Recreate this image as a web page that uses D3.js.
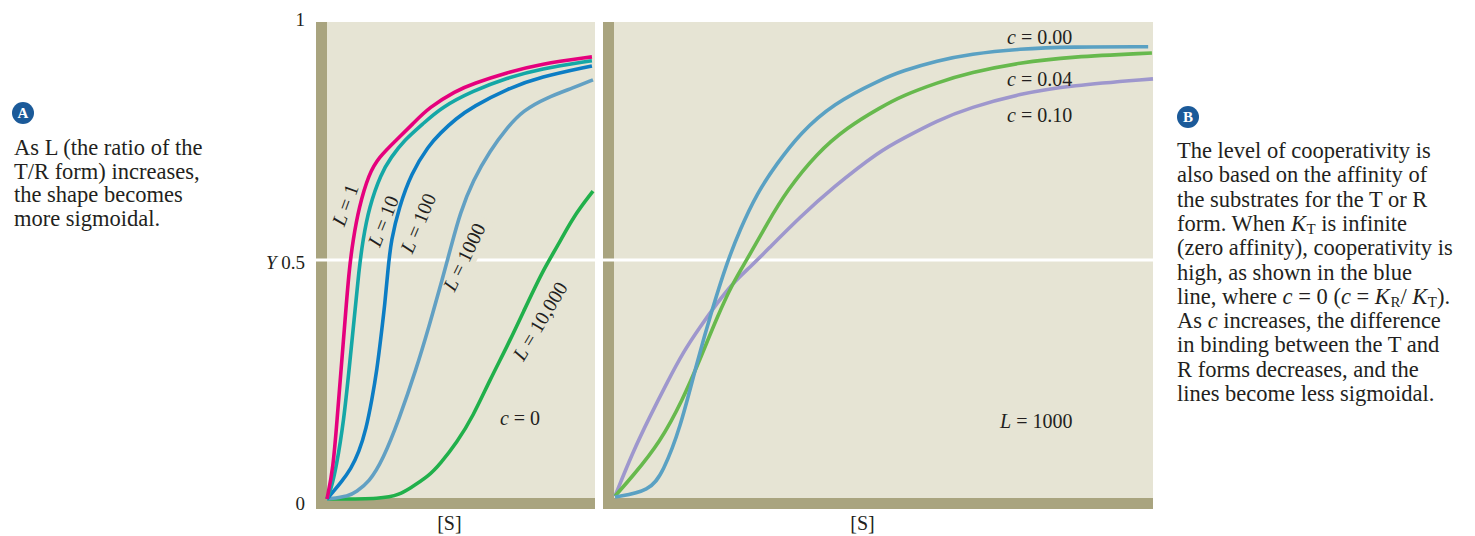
<!DOCTYPE html>
<html><head><meta charset="utf-8">
<script src="https://cdn.jsdelivr.net/npm/d3@7"></script>
<style>
html,body{margin:0;padding:0;background:#fff;}
svg{display:block;font-family:"Liberation Serif","Times New Roman",serif;}
</style></head><body>
<svg id="chart" width="1475" height="536"></svg>
<script>
// ---------- DATA ([S] in arbitrary units 0-100, Y fraction) ----------
const yTicks = [0, 0.5, 1];
const yTickLabels = ["0", "0.5", "1"];
const xAxisLabel = "[S]";

// Panel A: effect of L (c = 0)
const leftNames = ["L = 1", "L = 10", "L = 100", "L = 1000", "L = 10,000"];
const curveL1 = [[0,0],[2.3,0.063],[3.8,0.167],[5.3,0.271],[6.8,0.375],[8.3,0.479],[9.8,0.542],[12.0,0.610],[15.8,0.681],[19.5,0.715],[25.9,0.750],[32.3,0.785],[38.3,0.819],[48.5,0.854],[54.9,0.869],[67.7,0.892],[80.1,0.910],[99.6,0.925]];
const curveL10 = [[0,0],[1.5,0.021],[3.4,0.063],[6.4,0.167],[8.3,0.271],[10.2,0.375],[12.0,0.479],[13.5,0.542],[15.8,0.610],[20.3,0.681],[24.1,0.715],[28.9,0.750],[36.1,0.785],[42.9,0.819],[54.9,0.854],[67.7,0.881],[80.1,0.900],[99.6,0.917]];
const curveL100 = [[0,0],[2.3,0.015],[5.3,0.035],[9.0,0.063],[12.0,0.098],[14.7,0.146],[16.9,0.208],[18.8,0.271],[20.3,0.340],[21.8,0.410],[22.9,0.479],[24.1,0.542],[27.1,0.610],[31.6,0.681],[38.3,0.740],[42.5,0.765],[48.5,0.796],[54.9,0.821],[67.7,0.858],[80.1,0.883],[99.6,0.906]];
const curveL1000 = [[0,0],[8.3,0.006],[10.9,0.015],[15.8,0.035],[21.1,0.083],[27.1,0.167],[33.5,0.271],[38.3,0.360],[43.6,0.465],[46.6,0.527],[50.0,0.598],[54.9,0.667],[61.3,0.729],[67.7,0.777],[73.7,0.813],[82.7,0.840],[92.5,0.860],[100,0.877]];
const curveL10000 = [[0,0],[21.1,0],[27.4,0.010],[30.8,0.021],[38.3,0.048],[42.5,0.073],[48.9,0.119],[54.9,0.173],[61.3,0.250],[67.7,0.319],[73.7,0.390],[81.2,0.479],[86.5,0.527],[92.5,0.590],[100,0.644]];

// Panel B: effect of c (L = 1000)
const rightNames = ["c = 0.00", "c = 0.04", "c = 0.10"];
const curveC000 = [[0,0.004],[6.5,0.017],[8.9,0.056],[12.1,0.146],[15.2,0.285],[18.2,0.402],[20.8,0.494],[23.2,0.563],[26.4,0.640],[30.1,0.702],[34.4,0.765],[40.5,0.827],[49.3,0.877],[53.5,0.896],[59.9,0.917],[66.0,0.931],[75.3,0.942],[84.6,0.946],[99.1,0.946]];
const curveC004 = [[0,0.006],[3.3,0.048],[8.4,0.119],[12.6,0.208],[15.8,0.292],[19.0,0.381],[21.9,0.452],[24.5,0.500],[28.3,0.577],[32.0,0.646],[37.5,0.723],[43.1,0.777],[49.3,0.819],[53.5,0.844],[59.9,0.871],[66.0,0.892],[75.3,0.913],[84.6,0.925],[99.8,0.933]];
const curveC010 = [[0,0.006],[3.3,0.098],[6.5,0.173],[9.7,0.244],[12.6,0.306],[15.8,0.360],[19.0,0.410],[21.9,0.452],[25.1,0.485],[28.3,0.521],[34.4,0.590],[40.5,0.652],[49.3,0.729],[53.5,0.754],[59.9,0.792],[66.0,0.819],[75.3,0.848],[84.6,0.865],[100,0.879]];

// Side notes
const noteA = [
  [["As L (the ratio of the",""]],
  [["T/R form) increases,",""]],
  [["the shape becomes",""]],
  [["more sigmoidal.",""]]
];
const noteB = [
  [["The level of cooperativity is",""]],
  [["also based on the affinity of",""]],
  [["the substrates for the T or R",""]],
  [["form. When ",""],["K","i"],["T","sub"],[" is infinite",""]],
  [["(zero affinity), cooperativity is",""]],
  [["high, as shown in the blue",""]],
  [["line, where ",""],["c","i"],[" = 0 (",""],["c","i"],[" = ",""],["K","i"],["R","sub"],["/ ",""],["K","i"],["T","sub"],[").",""]],
  [["As ",""],["c","i"],[" increases, the difference",""]],
  [["in binding between the T and",""]],
  [["R forms decreases, and the",""]],
  [["lines become less sigmoidal.",""]]
];

// ---------- DRAWING ----------
const svg = d3.select("#chart");
const INK = "#231f20", BG = "#e6e4d4", BAR = "#a9a47f";
const y  = d3.scaleLinear().domain([0,1]).range([499,21]);
const xL = d3.scaleLinear().domain([0,100]).range([327,593]);
const xR = d3.scaleLinear().domain([0,100]).range([615,1153]);

function rich(sel, parts, fs){
  parts.forEach(([t,st])=>{
    const ts = sel.append("tspan").text(t);
    if(st==="i") ts.attr("font-style","italic");
    if(st==="sub") ts.attr("font-size", Math.round(fs*0.68)).attr("baseline-shift","-22%").attr("dx",0.5);
  });
  return sel;
}

function panel(x0,x1,barW){
  const g = svg.append("g");
  g.append("rect").attr("x",x0).attr("y",22).attr("width",x1-x0).attr("height",487).attr("fill",BG);
  g.append("rect").attr("x",x0).attr("y",22).attr("width",barW).attr("height",487).attr("fill",BAR);
  g.append("rect").attr("x",x0).attr("y",498).attr("width",x1-x0).attr("height",11).attr("fill",BAR);
  g.append("line").attr("x1",x0).attr("x2",x1).attr("y1",y(0.5)).attr("y2",y(0.5))
    .attr("stroke","#fff").attr("stroke-width",3);
  return g;
}
panel(316,595,11);
panel(603,1153,11);

// knock-out behind the rotated "L = 1000" label on the white 0.5 line
const knock = svg.append("g");

// Y axis
const yAxis = svg.append("g").attr("transform","translate(305,0)")
  .call(d3.axisLeft(y).tickValues(yTicks).tickSize(0).tickPadding(0)
        .tickFormat((d,i)=>yTickLabels[i]));
yAxis.select(".domain").remove();
yAxis.selectAll("text").attr("font-family","Liberation Serif, serif").attr("font-size",19).attr("fill",INK);
yAxis.selectAll(".tick").filter(d=>d===0).select("text").attr("dy","0.55em");
yAxis.selectAll(".tick").filter(d=>d===1).select("text").attr("dy","0.25em");
yAxis.selectAll(".tick").filter(d=>d===0.5).select("text").each(function(){
  const t = d3.select(this); const lab = t.text(); t.text("");
  t.attr("dy","0.45em");
  t.append("tspan").attr("font-style","italic").text("Y");
  t.append("tspan").text(" " + lab);
});

// X axis labels
[xL, xR].forEach(sc=>{
  svg.append("text").attr("x",sc(46)).attr("y",530).attr("text-anchor","middle")
    .attr("font-size",20).attr("fill",INK).text(xAxisLabel);
});

// Curves
const lineL = d3.line().x(d=>xL(d[0])).y(d=>y(d[1])).curve(d3.curveBasis);
const lineR = d3.line().x(d=>xR(d[0])).y(d=>y(d[1])).curve(d3.curveBasis);
const leftSeries = [curveL10000, curveL1000, curveL100, curveL10, curveL1];
const leftColors = ["#21b04b","#62a0c3","#0c7dc4","#14a7a6","#e5007d"];
leftSeries.forEach((s,i)=>{
  svg.append("path").attr("d",lineL(s)).attr("fill","none").attr("stroke",leftColors[i])
    .attr("stroke-width",3.6).attr("stroke-linecap","butt").attr("stroke-linejoin","round");
});
const rightSeries = [curveC010, curveC004, curveC000];
const rightColors = ["#9e97cd","#67b94d","#5aa1c3"];
rightSeries.forEach((s,i)=>{
  svg.append("path").attr("d",lineR(s)).attr("fill","none").attr("stroke",rightColors[i])
    .attr("stroke-width",3.6).attr("stroke-linejoin","round");
});

// Curve labels (panel A, rotated along curves)
const leftLab = [
  {n:0, x:345, y:205, a:-70},
  {n:1, x:383, y:221, a:-68},
  {n:2, x:418, y:223, a:-67},
  {n:3, x:464, y:257, a:-64},
  {n:4, x:540, y:321, a:-59}
];
leftLab.forEach(l=>{
  const parts = [["L","i"],[leftNames[l.n].slice(1),""]];
  const t = svg.append("text").attr("transform",`translate(${l.x},${l.y}) rotate(${l.a})`)
    .attr("text-anchor","middle").attr("dy","0.35em").attr("font-size",20).attr("fill",INK);
  rich(t, parts, 20);
  if(l.n===3){
    knock.append("rect").attr("transform",`translate(${l.x},${l.y}) rotate(${l.a})`)
      .attr("x",-44).attr("y",-13).attr("width",88).attr("height",26).attr("fill",BG);
  }
});
rich(svg.append("text").attr("x",520).attr("y",425).attr("text-anchor","middle")
  .attr("font-size",20).attr("fill",INK), [["c","i"],[" = 0",""]], 20);

// Curve labels (panel B)
[[44,0],[86,1],[122,2]].forEach(([by,i])=>{
  rich(svg.append("text").attr("x",1007).attr("y",by).attr("font-size",20).attr("fill",INK),
    [["c","i"],[rightNames[i].slice(1),""]], 20);
});
rich(svg.append("text").attr("x",1000).attr("y",428).attr("font-size",20).attr("fill",INK),
  [["L","i"],[" = 1000",""]], 20);

// Side notes
function badge(cx,cy,letter){
  svg.append("circle").attr("cx",cx).attr("cy",cy).attr("r",11).attr("fill","#1b5a99");
  svg.append("text").attr("x",cx).attr("y",cy).attr("dy","0.36em").attr("text-anchor","middle")
    .attr("font-size",15).attr("font-weight","bold").attr("fill","#fff").text(letter);
}
badge(23,113,"A");
badge(1188,117,"B");
const NF = 22.5;
noteA.forEach((parts,i)=>{
  rich(svg.append("text").attr("x",14).attr("y",155+i*23.5).attr("font-size",NF).attr("fill",INK), parts, NF);
});
noteB.forEach((parts,i)=>{
  rich(svg.append("text").attr("x",1177).attr("y",158+i*24.3).attr("font-size",NF).attr("fill",INK), parts, NF);
});
</script>
</body></html>
